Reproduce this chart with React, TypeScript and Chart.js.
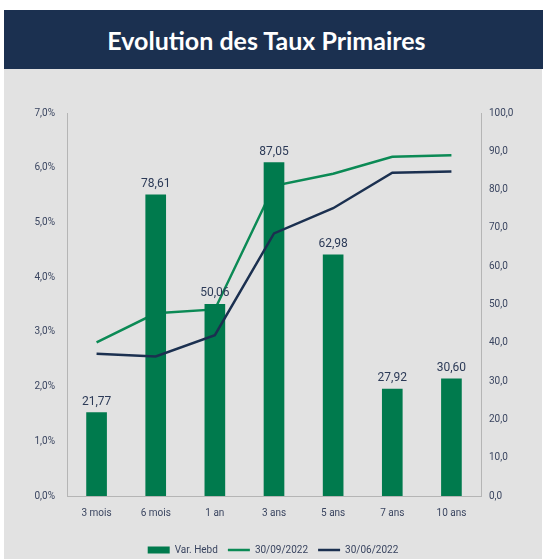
import React, { useEffect, useRef } from "react";
import { Chart, registerables } from "chart.js";

Chart.register(...registerables);

const title = "Evolution des Taux Primaires";
const categories = ["3 mois", "6 mois", "1 an", "3 ans", "5 ans", "7 ans", "10 ans"];
const seriesLabels = ["Var. Hebd", "30/09/2022", "30/06/2022"];
const varHebd = [21.77, 78.61, 50.06, 87.05, 62.98, 27.92, 30.6];
const taux3009 = [2.81, 3.34, 3.41, 5.67, 5.89, 6.2, 6.23];
const taux3006 = [2.6, 2.55, 2.94, 4.8, 5.26, 5.91, 5.93];

const NAVY = "#1b3050";
const GREEN_BAR = "#007a4d";
const GREEN_LINE = "#0b8a55";
const TEXT = "#3a4560";

const fmt = (v: number, d = 2) => v.toFixed(d).replace(".", ",");

const barLabelPlugin = {
  id: "barLabels",
  afterDatasetsDraw(chart: any) {
    const meta = chart.getDatasetMeta(0);
    const ctx = chart.ctx;
    ctx.save();
    ctx.font = "12px Roboto";
    ctx.fillStyle = "#2c3a57";
    ctx.textAlign = "center";
    ctx.textBaseline = "bottom";
    meta.data.forEach((el: any, i: number) => {
      ctx.fillText(fmt(varHebd[i]), el.x, el.y - 5);
    });
    ctx.restore();
  },
};

export default function App() {
  const ref = useRef<HTMLCanvasElement | null>(null);

  useEffect(() => {
    if (!ref.current) return;
    const tickFont = { family: "Roboto", size: 10 };
    const chart = new Chart(ref.current, {
      type: "bar",
      data: {
        labels: categories,
        datasets: [
          {
            type: "bar",
            label: seriesLabels[0],
            data: varHebd,
            backgroundColor: GREEN_BAR,
            borderWidth: 0,
            yAxisID: "y1",
            barThickness: 20,
            order: 2,
            pointStyle: "rect",
          } as any,
          {
            type: "line",
            label: seriesLabels[1],
            data: taux3009,
            borderColor: GREEN_LINE,
            backgroundColor: GREEN_LINE,
            borderWidth: 2.5,
            pointRadius: 0,
            pointStyle: "line",
            tension: 0,
            yAxisID: "y",
            order: 3,
          },
          {
            type: "line",
            label: seriesLabels[2],
            data: taux3006,
            borderColor: NAVY,
            backgroundColor: NAVY,
            borderWidth: 2.5,
            pointRadius: 0,
            pointStyle: "line",
            tension: 0,
            yAxisID: "y",
            order: 1,
          },
        ],
      },
      options: {
        animation: false,
        responsive: false,
        devicePixelRatio: 1,
        layout: { padding: { top: 44, left: 0, right: 0, bottom: -6 } },
        plugins: {
          title: { display: false },
          tooltip: { enabled: false },
          legend: {
            position: "bottom",
            labels: {
              usePointStyle: true,
              pointStyleWidth: 22,
              boxHeight: 7,
              padding: 10,
              color: TEXT,
              font: tickFont,
              sort: (a: any, b: any) => a.datasetIndex - b.datasetIndex,
            },
          },
        },
        scales: {
          x: {
            grid: { display: false, drawTicks: false },
            border: { display: true, color: "#b5b5b5", width: 1 },
            ticks: { padding: 11, color: TEXT, font: tickFont },
            afterFit: (s: any) => {
              s.height = 39;
            },
          },
          y: {
            position: "left",
            min: 0,
            max: 7,
            grid: { display: false, drawTicks: false },
            border: { display: true, color: "#b5b5b5", width: 1 },
            ticks: {
              stepSize: 1,
              padding: 12,
              color: TEXT,
              font: tickFont,
              callback: (v: any) => fmt(Number(v), 1) + "%",
            },
            afterFit: (s: any) => {
              s.width = 63;
            },
          },
          y1: {
            position: "right",
            min: 0,
            max: 100,
            grid: { display: false, drawTicks: false },
            border: { display: true, color: "#b5b5b5", width: 1 },
            ticks: {
              stepSize: 10,
              padding: 8,
              color: TEXT,
              font: tickFont,
              callback: (v: any) => fmt(Number(v), 1),
            },
            afterFit: (s: any) => {
              s.width = 61;
            },
          },
        },
      },
      plugins: [barLabelPlugin],
    } as any);
    return () => chart.destroy();
  }, []);

  return (
    <div
      style={{
        position: "fixed",
        left: 0,
        top: 0,
        width: 543,
        height: 559,
        background: "#ffffff",
        overflow: "hidden",
      }}
    >
      <div
        style={{
          position: "absolute",
          left: 4,
          top: 10,
          width: 539,
          height: 59,
          background: NAVY,
          color: "#ffffff",
          display: "flex",
          alignItems: "center",
          justifyContent: "center",
          paddingRight: 14,
          boxSizing: "border-box",
          fontFamily: "Lato, 'Noto Sans', sans-serif",
          fontWeight: 700,
          fontSize: 25,
        }}
      >
        {title}
      </div>
      <div
        style={{
          position: "absolute",
          left: 4,
          top: 69,
          width: 538,
          height: 490,
          background: "#e2e2e2",
        }}
      >
        <canvas ref={ref} width={538} height={490} style={{ display: "block" }} />
      </div>
    </div>
  );
}
